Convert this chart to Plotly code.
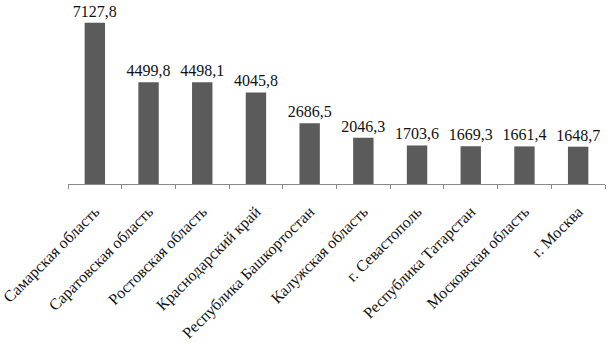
import plotly.graph_objects as go

categories = ["Самарская область", "Саратовская область", "Ростовская область",
              "Краснодарский край", "Республика Башкортостан", "Калужская область",
              "г. Севастополь", "Республика Татарстан", "Московская область", "г. Москва"]
values = [7127.8, 4499.8, 4498.1, 4045.8, 2686.5, 2046.3, 1703.6, 1669.3, 1661.4, 1648.7]

fig = go.Figure(go.Bar(
    x=categories, y=values,
    marker=dict(color="#5b5b5b", line=dict(width=0)),
    texttemplate="%{y:.1f}", textposition="outside", cliponaxis=False,
    textfont=dict(family="Liberation Serif", size=16, color="#111111"),
))
fig.update_layout(
    width=607, height=343,
    margin=dict(l=68, r=2, t=3, b=159, autoexpand=False),
    paper_bgcolor="white", plot_bgcolor="white",
    separators=", ",
    bargap=0.62,
    showlegend=False,
    uniformtext=dict(minsize=16, mode="show"),
    font=dict(family="Liberation Serif", size=16, color="#111111"),
)
fig.update_xaxes(
    type="category", tickangle=-45, showline=True, linecolor="#8a8a8a", linewidth=1,
    ticks="outside", tickson="boundaries", ticklen=4, tickcolor="#8a8a8a",
    automargin=False, ticklabelstandoff=11,
    showgrid=False, tickfont=dict(family="Liberation Serif", size=16, color="#111111"),
)
fig.update_yaxes(range=[0, 8000], visible=False, showgrid=False, automargin=False)
fig.write_html("out.html", config={"displayModeBar": False},
               post_script="document.body.style.margin='0';document.body.style.overflow='hidden';")
